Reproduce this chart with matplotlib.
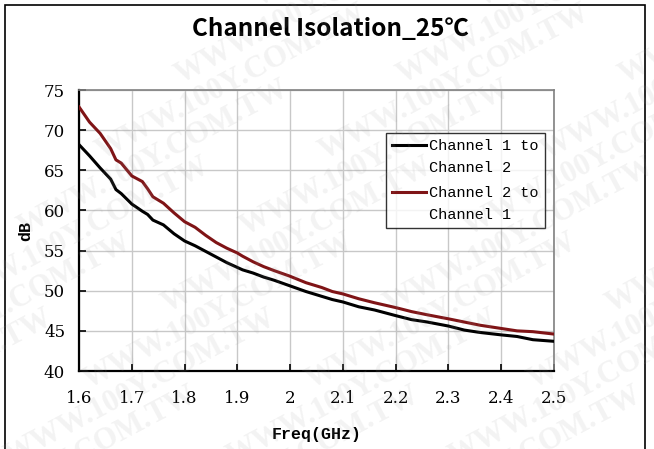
import matplotlib
matplotlib.use('Agg')
import matplotlib.pyplot as plt
from matplotlib.patches import Rectangle
from matplotlib.legend_handler import HandlerLine2D

# frequency points (GHz) and isolation values (dB)
freq = [1.60, 1.62, 1.64, 1.66, 1.67, 1.68, 1.70, 1.72, 1.73, 1.74, 1.76, 1.78, 1.80,
        1.82, 1.84, 1.86, 1.88, 1.90, 1.91, 1.93, 1.95, 1.97, 2.00, 2.03, 2.06, 2.08,
        2.10, 2.13, 2.16, 2.20, 2.23, 2.26, 2.30, 2.33, 2.36, 2.40, 2.43, 2.46, 2.50]
ch1_to_ch2 = [68.2, 66.8, 65.3, 63.9, 62.6, 62.1, 60.8, 59.9, 59.5, 58.8, 58.2, 57.1, 56.2,
              55.6, 54.9, 54.2, 53.5, 52.9, 52.6, 52.2, 51.7, 51.3, 50.6, 49.9, 49.3, 48.9,
              48.6, 48.0, 47.6, 46.9, 46.4, 46.1, 45.6, 45.1, 44.8, 44.5, 44.3, 43.9, 43.7]
ch2_to_ch1 = [72.9, 71.0, 69.6, 67.7, 66.3, 65.9, 64.3, 63.6, 62.7, 61.7, 60.9, 59.7, 58.6,
              57.9, 56.9, 56.0, 55.3, 54.7, 54.3, 53.6, 53.0, 52.5, 51.8, 51.0, 50.4, 49.9,
              49.6, 49.0, 48.5, 47.9, 47.4, 47.0, 46.5, 46.1, 45.7, 45.3, 45.0, 44.9, 44.6]
series_labels = ['Channel 1 to\nChannel 2', 'Channel 2 to\nChannel 1']
x_ticks = [1.6, 1.7, 1.8, 1.9, 2.0, 2.1, 2.2, 2.3, 2.4, 2.5]
x_tick_labels = ['1.6', '1.7', '1.8', '1.9', '2', '2.1', '2.2', '2.3', '2.4', '2.5']
y_ticks = [40, 45, 50, 55, 60, 65, 70, 75]
watermark = 'WWW.100Y.COM.TW'

mono = 'Liberation Mono'
serif = 'DejaVu Serif'


# legend line sits next to the first text line, not the middle of the two
class FirstLineHandler(HandlerLine2D):
    def create_artists(self, legend, orig_handle, xdescent, ydescent, width, height, fontsize, trans):
        artists = super().create_artists(legend, orig_handle, xdescent, ydescent,
                                         width, height, fontsize, trans)
        for a in artists:
            a.set_ydata([y + 0.8 * fontsize for y in a.get_ydata()])
        return artists


fig = plt.figure(figsize=(6.54, 4.49), dpi=100)
ax = fig.add_axes([0.1208, 0.1737, 0.7263, 0.6258])

ax.plot(freq, ch1_to_ch2, color='black', lw=2.2, label=series_labels[0], zorder=3)
ax.plot(freq, ch2_to_ch1, color='#7f1416', lw=2.2, label=series_labels[1], zorder=3)

ax.set_xlim(1.6, 2.5)
ax.set_ylim(40, 75)
ax.set_xticks(x_ticks)
ax.set_xticklabels(x_tick_labels, fontfamily=serif, fontsize=12)
ax.set_yticks(y_ticks)
ax.set_yticklabels([str(v) for v in y_ticks], fontfamily=serif, fontsize=12)
ax.tick_params(axis='x', direction='in', length=5, width=1.2, pad=14)
ax.tick_params(axis='y', direction='in', length=5, width=1.2, pad=10)
ax.grid(True, color='#c8c8c8', lw=1)
ax.set_axisbelow(True)

for side in ['left', 'bottom']:
    ax.spines[side].set_linewidth(1.6)
    ax.spines[side].set_color('black')
for side in ['top', 'right']:
    ax.spines[side].set_linewidth(1.2)
    ax.spines[side].set_color('#808080')

ax.set_xlabel('Freq(GHz)', fontfamily=mono, fontweight='bold', fontsize=12, labelpad=14)
ax.set_ylabel('dB', fontfamily=mono, fontweight='bold', fontsize=12, labelpad=8)

leg = ax.legend(loc='upper left', bbox_to_anchor=(0.647, 0.848), prop={'family': mono, 'size': 11},
                frameon=True, fancybox=False, edgecolor='black', handlelength=2.2,
                handletextpad=0.2, borderpad=0.4, labelspacing=0.7, borderaxespad=0,
                handler_map={plt.Line2D: FirstLineHandler()})
leg.get_frame().set_linewidth(1.0)
for t in leg.get_texts():
    t.set_linespacing(1.75)

fig.text(0.505, 0.935, 'Channel Isolation_25℃', ha='center', va='center', fontsize=17.5,
         fontweight='bold', family=['Noto Sans CJK SC', 'DejaVu Sans'])

# outer frame
fig.patches.append(Rectangle((5 / 654, -0.05), 640 / 654, 1.05 - 5 / 449, transform=fig.transFigure,
                             fill=False, edgecolor='black', lw=1.2))

# faint diagonal watermark
for row in range(-2, 8):
    for col in range(-1, 4):
        fig.text(col * 0.34 + row * 0.12, row * 0.17 - 0.05, watermark, rotation=28,
                 fontsize=22, fontweight='bold', family='Liberation Serif',
                 color='#9a9a9a', alpha=0.12, ha='left', va='bottom', zorder=10)

fig.savefig('out.png', dpi=100)
